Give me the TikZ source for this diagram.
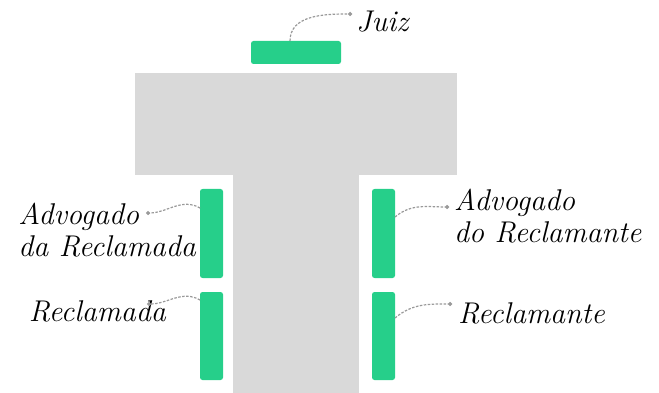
\documentclass[tikz,border=0pt]{standalone}
\usetikzlibrary{arrows.meta}
\definecolor{tgray}{HTML}{D9D9D9}
\definecolor{tgreen}{HTML}{26CF8A}
\definecolor{lgray}{HTML}{999999}
\begin{document}
\begin{tikzpicture}[x=1pt,y=-1pt,
  bar/.style={fill=tgreen,rounded corners=2.5pt},
  lbl/.style={font=\fontsize{30}{32}\selectfont\itshape,inner sep=0pt,align=left},
  conn/.style={draw=lgray,dash pattern=on 2.5pt off 1.5pt,line width=1.2pt,-{Circle[length=4pt]}}]
\useasboundingbox (0,0) rectangle (659,393);
% T shape
\fill[tgray] (135,73) rectangle (457,175);
\fill[tgray] (233,175) rectangle (359,393);
% bars
\path[bar] (251,41) rectangle (341,64);
\coordinate (juizb) at (290,41);
\path[bar] (200,189) rectangle (223,278);
\path[bar] (200,292) rectangle (223,380);
\path[bar] (372,189) rectangle (395,278);
\path[bar] (372,292) rectangle (395,380);
\coordinate (b1) at (200,208);
\coordinate (b2) at (200,300);
\coordinate (b3) at (395,217);
\coordinate (b4) at (395,318);
% labels
\node[lbl,anchor=west] (juiz) at (356,22) {Juiz};
\node[lbl,anchor=east] (advrda) at (196,230) {Advogado\\da Reclamada};
\node[lbl,anchor=west] (advrte) at (454,216) {Advogado\\do Reclamante};
\node[lbl,anchor=east] (rda) at (166,311) {Reclamada};
\node[lbl,anchor=west] (rte) at (458,313) {Reclamante};
\coordinate (tj) at (352,14);
\coordinate (t1) at (146,213);
\coordinate (t2) at (147,304);
\coordinate (t3) at (449,207);
\coordinate (t4) at (452,304);
% connectors
\draw[conn] (juizb) to[out=90,in=180] (tj);
\draw[conn] (b1) to[out=150,in=0] (t1);
\draw[conn] (b2) to[out=150,in=0] (t2);
\draw[conn] (b3) to[out=40,in=180] (t3);
\draw[conn] (b4) to[out=40,in=180] (t4);
\end{tikzpicture}
\end{document}
